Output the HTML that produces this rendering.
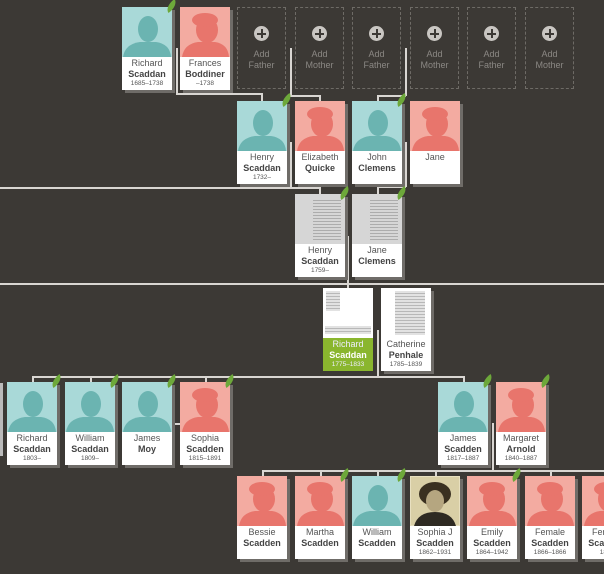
<!DOCTYPE html>
<html><head><meta charset="utf-8"><style>
body{margin:0;width:604px;height:574px;background:#3c3935;position:relative;overflow:hidden;font-family:"Liberation Sans",sans-serif}
.c{position:absolute;width:50px;height:83px;background:#fff;box-shadow:3px 3px 0 #6f6c68}
.i{height:50px;position:relative;overflow:hidden}
.m .i{background:#a9d9d8}.f .i{background:#f3aba1}
.d .i{background:#d6d6d6}
.t{text-align:center;color:#555;font-size:9px;line-height:11px;padding-top:1px}
.t b{display:block;font-weight:bold;color:#444}
.t s{text-decoration:none;display:block;font-size:6.5px;line-height:8px}
.g .t{background:#8ab62e;color:#eef;height:32px}.g .t b{color:#fff}
.a{position:absolute;width:49px;height:82px;border:1px dashed #6e6b66;box-sizing:border-box;text-align:center;color:#8b8884;font-size:9px;line-height:11px}
.a .p{width:15px;height:15px;border-radius:50%;background:#c9c6c2;margin:18px auto 8px;position:relative}
.a .p:before{content:"";position:absolute;left:3px;top:6.5px;width:9px;height:2px;background:#3c3935}
.a .p:after{content:"";position:absolute;top:3px;left:6.5px;height:9px;width:2px;background:#3c3935}
.l{position:absolute;background:#d9d6d2}
.h{height:1.5px}.v{width:1.5px}
.leaf{position:absolute;width:13px;height:8px;background:#6da83a;border-radius:100% 0;transform:rotate(-35deg)}
svg{position:absolute;left:0;top:0}
.doc{position:absolute;background:repeating-linear-gradient(#d6d6d6 0 2px,#9a9a9a 2px 3px);opacity:.7}
</style></head><body>
<svg width="0" height="0" style="position:absolute"><defs>
<symbol id="ms" viewBox="0 0 50 50"><ellipse cx="26" cy="22" rx="10" ry="13" fill="#6bb4b1"/><path d="M1 50 Q3 37 18 35 L34 35 Q48 37 49 50Z" fill="#6bb4b1"/></symbol>
<symbol id="fs" viewBox="0 0 50 50"><ellipse cx="27" cy="23" rx="11" ry="13" fill="#e8756c"/><ellipse cx="25" cy="13" rx="13" ry="7" fill="#e8756c"/><path d="M2 50 Q4 37 18 35 L35 35 Q48 37 49 50Z" fill="#e8756c"/></symbol>
</defs></svg>

<div class="l v" style="left:176px;top:48px;height:46px"></div>
<div class="l h" style="left:176px;top:93px;width:86px"></div>
<div class="l v" style="left:261px;top:93px;height:8px"></div>
<div class="l v" style="left:290px;top:48px;height:48px"></div>
<div class="l h" style="left:290px;top:95px;width:30px"></div>
<div class="l v" style="left:319px;top:95px;height:6px"></div>
<div class="l v" style="left:405px;top:48px;height:48px"></div>
<div class="l h" style="left:377px;top:95px;width:29px"></div>
<div class="l v" style="left:377px;top:95px;height:6px"></div>
<div class="l h" style="left:0;top:187px;width:320px"></div>
<div class="l v" style="left:290px;top:142px;height:46px"></div>
<div class="l v" style="left:319px;top:187px;height:7px"></div>
<div class="l v" style="left:405px;top:142px;height:45px"></div>
<div class="l h" style="left:377px;top:186px;width:29px"></div>
<div class="l v" style="left:377px;top:186px;height:8px"></div>
<div class="l v" style="left:347px;top:236px;height:52px"></div>
<div class="l h" style="left:0;top:283px;width:604px"></div>
<div class="l v" style="left:377px;top:330px;height:46px"></div>
<div class="l h" style="left:32px;top:376px;width:432px"></div>
<div class="l v" style="left:32px;top:376px;height:6px"></div>
<div class="l v" style="left:90px;top:376px;height:6px"></div>
<div class="l v" style="left:205px;top:376px;height:6px"></div>
<div class="l v" style="left:463px;top:376px;height:6px"></div>
<div class="l h" style="left:172px;top:423px;width:8px"></div>
<div class="l v" style="left:492px;top:423px;height:47px"></div>
<div class="l h" style="left:262px;top:470px;width:342px"></div>
<div class="l v" style="left:262px;top:470px;height:6px"></div>
<div class="l v" style="left:320px;top:470px;height:6px"></div>
<div class="l v" style="left:377px;top:470px;height:6px"></div>
<div class="l v" style="left:435px;top:470px;height:6px"></div>
<div class="l v" style="left:550px;top:470px;height:6px"></div>
<div class="l" style="left:0;top:383px;width:3px;height:73px;background:#bbb"></div>

<div class="c m" style="left:122px;top:7px"><div class="i"><svg width="50" height="50"><use href="#ms"/></svg></div><div class="t">Richard<b>Scaddan</b><s>1685–1738</s></div></div>
<div class="c f" style="left:180px;top:7px"><div class="i"><svg width="50" height="50"><use href="#fs"/></svg></div><div class="t">Frances<b>Boddiner</b><s>–1738</s></div></div>
<div class="a" style="left:237px;top:7px"><div class="p"></div>Add<br>Father</div>
<div class="a" style="left:295px;top:7px"><div class="p"></div>Add<br>Mother</div>
<div class="a" style="left:352px;top:7px"><div class="p"></div>Add<br>Father</div>
<div class="a" style="left:410px;top:7px"><div class="p"></div>Add<br>Mother</div>
<div class="a" style="left:467px;top:7px"><div class="p"></div>Add<br>Father</div>
<div class="a" style="left:525px;top:7px"><div class="p"></div>Add<br>Mother</div>

<div class="c m" style="left:237px;top:101px"><div class="i"><svg width="50" height="50"><use href="#ms"/></svg></div><div class="t">Henry<b>Scaddan</b><s>1732–</s></div></div>
<div class="c f" style="left:295px;top:101px"><div class="i"><svg width="50" height="50"><use href="#fs"/></svg></div><div class="t">Elizabeth<b>Quicke</b></div></div>
<div class="c m" style="left:352px;top:101px"><div class="i"><svg width="50" height="50"><use href="#ms"/></svg></div><div class="t">John<b>Clemens</b></div></div>
<div class="c f" style="left:410px;top:101px"><div class="i"><svg width="50" height="50"><use href="#fs"/></svg></div><div class="t">Jane</div></div>

<div class="c d" style="left:295px;top:194px"><div class="i"><div class="doc" style="left:18px;top:4px;width:28px;height:44px"></div></div><div class="t">Henry<b>Scaddan</b><s>1759–</s></div></div>
<div class="c d" style="left:352px;top:194px"><div class="i"><div class="doc" style="left:18px;top:4px;width:28px;height:44px"></div></div><div class="t">Jane<b>Clemens</b></div></div>

<div class="c g" style="left:323px;top:288px;box-shadow:none"><div class="i" style="background:#fff"><div class="doc" style="left:2px;top:38px;width:46px;height:8px"></div><div class="doc" style="left:3px;top:3px;width:14px;height:20px"></div></div><div class="t">Richard<b>Scaddan</b><s>1775–1833</s></div></div>
<div class="c" style="left:381px;top:288px"><div class="i" style="background:#fff"><div class="doc" style="left:14px;top:3px;width:30px;height:44px"></div></div><div class="t">Catherine<b>Penhale</b><s>1785–1839</s></div></div>

<div class="c m" style="left:7px;top:382px"><div class="i"><svg width="50" height="50"><use href="#ms"/></svg></div><div class="t">Richard<b>Scaddan</b><s>1803–</s></div></div>
<div class="c m" style="left:65px;top:382px"><div class="i"><svg width="50" height="50"><use href="#ms"/></svg></div><div class="t">William<b>Scaddan</b><s>1809–</s></div></div>
<div class="c m" style="left:122px;top:382px"><div class="i"><svg width="50" height="50"><use href="#ms"/></svg></div><div class="t">James<b>Moy</b></div></div>
<div class="c f" style="left:180px;top:382px"><div class="i"><svg width="50" height="50"><use href="#fs"/></svg></div><div class="t">Sophia<b>Scadden</b><s>1815–1891</s></div></div>
<div class="c m" style="left:438px;top:382px"><div class="i"><svg width="50" height="50"><use href="#ms"/></svg></div><div class="t">James<b>Scadden</b><s>1817–1887</s></div></div>
<div class="c f" style="left:496px;top:382px"><div class="i"><svg width="50" height="50"><use href="#fs"/></svg></div><div class="t">Margaret<b>Arnold</b><s>1840–1887</s></div></div>

<div class="c f" style="left:237px;top:476px"><div class="i"><svg width="50" height="50"><use href="#fs"/></svg></div><div class="t">Bessie<b>Scadden</b></div></div>
<div class="c f" style="left:295px;top:476px"><div class="i"><svg width="50" height="50"><use href="#fs"/></svg></div><div class="t">Martha<b>Scadden</b></div></div>
<div class="c m" style="left:352px;top:476px"><div class="i"><svg width="50" height="50"><use href="#ms"/></svg></div><div class="t">William<b>Scadden</b></div></div>
<div class="c" style="left:410px;top:476px"><div class="i" style="background:#e8e0c0"><svg width="50" height="50"><rect x="1" y="1" width="48" height="48" fill="#d9cfa6"/><ellipse cx="25" cy="18" rx="16" ry="12" fill="#3a3020"/><ellipse cx="25" cy="25" rx="9" ry="11" fill="#b5a680"/><path d="M4 50 Q8 36 25 36 Q42 36 46 50Z" fill="#2e2a22"/></svg></div><div class="t">Sophia J<b>Scadden</b><s>1862–1931</s></div></div>
<div class="c f" style="left:467px;top:476px"><div class="i"><svg width="50" height="50"><use href="#fs"/></svg></div><div class="t">Emily<b>Scadden</b><s>1864–1942</s></div></div>
<div class="c f" style="left:525px;top:476px"><div class="i"><svg width="50" height="50"><use href="#fs"/></svg></div><div class="t">Female<b>Scadden</b><s>1866–1866</s></div></div>
<div class="c f" style="left:582px;top:476px"><div class="i"><svg width="50" height="50"><use href="#fs"/></svg></div><div class="t">Female<b>Scadden</b><s>1869</s></div></div>

<div class="leaf" style="left:165px;top:2px"></div>
<div class="leaf" style="left:280px;top:96px"></div>
<div class="leaf" style="left:395px;top:96px"></div>
<div class="leaf" style="left:338px;top:189px"></div>
<div class="leaf" style="left:395px;top:189px"></div>
<div class="leaf" style="left:50px;top:377px"></div>
<div class="leaf" style="left:108px;top:377px"></div>
<div class="leaf" style="left:165px;top:377px"></div>
<div class="leaf" style="left:223px;top:377px"></div>
<div class="leaf" style="left:481px;top:377px"></div>
<div class="leaf" style="left:539px;top:377px"></div>
<div class="leaf" style="left:338px;top:471px"></div>
<div class="leaf" style="left:395px;top:471px"></div>
<div class="leaf" style="left:510px;top:471px"></div>
</body></html>
